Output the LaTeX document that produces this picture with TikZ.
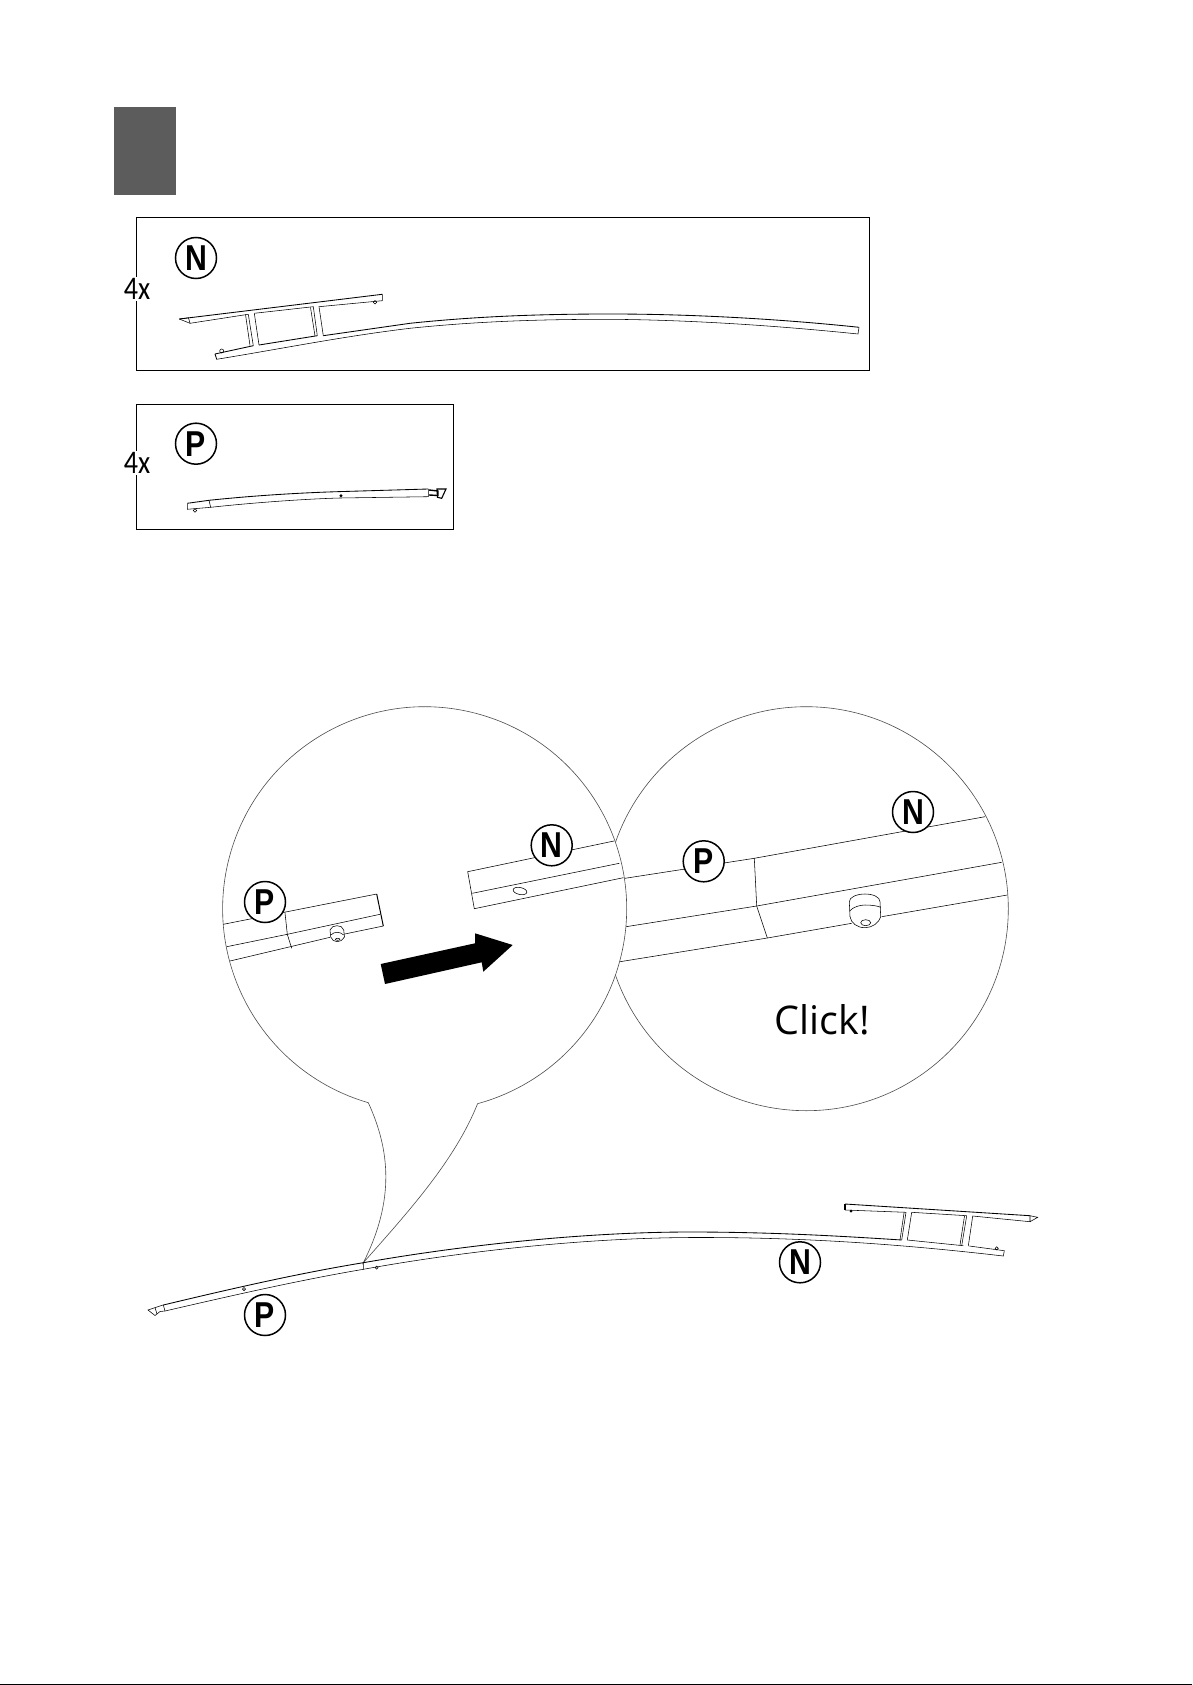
\documentclass[tikz,border=0pt]{standalone}
\usepackage{fontspec}
\newfontfamily\markfont{Liberation Sans}
\newfontfamily\clickfont{Open Sans}
\newfontfamily\countfont{Carlito}
\tikzset{
  partmark/.style={circle,draw,line width=1.5pt,fill=white,minimum size=41pt,inner sep=0pt,font=\markfont\bfseries\fontsize{36}{36}\selectfont},
  countlabel/.style={fill=white,inner sep=1pt,font=\countfont\fontsize{33}{33}\selectfont},
  framebox/.style={draw,line width=1pt},
  part/.style={line width=0.55pt},
  heavy/.style={line width=0.85pt},
  bubble/.style={draw=black!70,line width=0.6pt,fill=white}
}
\newcommand{\narrow}[1]{\scalebox{.84}[1]{#1}}
\begin{document}
\begin{tikzpicture}[x=1pt,y=-1pt]
    \useasboundingbox (0,0) rectangle (1192,1685);
    \draw[line width=1.3pt] (0,1684.4) -- (1192,1684.4);

    % step block
    \fill[black!64] (114,107) rectangle (176,195);

    % part N, in its frame
    \draw[framebox] (136.7,217.3) rectangle (869,370.3);
    \node[countlabel] (countN) at (137,289) {\scalebox{.85}[1]{4x}};
    \node[partmark] (markN) at (196,258) {\narrow{N}};
    \draw[part] (179.3,319) -- (190,323.3) -- (248.3,314.3) (248.3,314.3) -- (253.3,345.7);
    \draw[heavy] (179.3,319) -- (382.3,294.3);
    \draw[part] (179.3,319) -- (188.5,317.8) -- (190,323.3);
    \draw[part] (382.3,294.3) -- (382.3,300.7) -- (319,306.7) -- (323.3,335.7);
    \draw[part] (245.5,314.5) -- (250,345.5) (310.5,307.5) -- (315,336);
    \draw[part] (254.3,313.3) -- (313.3,306.7) -- (317.3,335.7);
    \draw[heavy] (317.3,335.7) -- (259,345);
    \draw[part] (254.3,313.3) -- (259,345);
    \draw[heavy] (215,354) -- (253.3,345.7);
    \draw[heavy] (215,354) -- (216.7,359.3);
    \draw[part] (216.7,359.3) .. controls (280,349) and (345,336) .. (410,328.3) .. controls (480,321) and (545,319.3) .. (610,319.3) .. controls (700,320) and (790,327) .. (858,334) -- (859,327.3);
    \draw[heavy] (323.3,335.7) -- (410,323.3) .. controls (480,316) and (545,314) .. (610,314) .. controls (700,314) and (790,320) .. (859,327.3);
    \draw[part] (221.7,351) circle (2);
    \draw[part] (375,302.3) circle (1.7);

    % part P, in its frame
    \draw[framebox] (136.7,404.3) rectangle (453.6,529.3);
    \node[countlabel] (countP) at (137,463) {\scalebox{.85}[1]{4x}};
    \node[partmark] (markP) at (196,443.7) {\narrow{P}};
    \draw[part] (187.3,503.3) -- (187.3,509.3) -- (210.7,507.3) .. controls (250,503) and (303,499) .. (340,498) -- (428.3,496.7) -- (428.3,489);
    \draw[heavy] (187.3,503.3) -- (209,500.3) .. controls (250,496) and (295,493) .. (336.7,491.7) -- (428.3,489);
    \draw[part] (209,500.3) -- (210.7,507.3);
    \draw[line width=1.4pt] (429,490) -- (438,491) -- (438,495.5) -- (429,495);
    \draw[line width=1.1pt] (437,489) -- (446,489) -- (441.7,498.3) -- (437.5,497.3) -- cycle;
    \fill (341,495.7) circle (1.6);
    \draw[part] (195,510.5) circle (1.8);

    % zoom on the joined pieces
    \draw[bubble] (806.3,908.7) circle (202);
    \draw[part] (625,878.3) -- (754.3,858.3) -- (985,816.7);
    \draw[part] (620,961.7) -- (767.3,938) -- (851.7,923.3) (881.7,916.7) -- (1007.3,895);
    \draw[part] (626,926.7) -- (756.7,906) -- (1001.7,862.3);
    \draw[part] (754.3,858.3) -- (756.7,906) -- (767.3,938);
    \draw[part,fill=white] (849.3,901.7) .. controls (849.3,897) and (857,894) .. (865,894) .. controls (873,894) and (880,897) .. (880,901.7) -- (880.7,916.7) .. controls (879,923) and (872,927.7) .. (865,927.7) .. controls (857,927.7) and (851,923) .. (850,916.7) -- cycle;
    \draw[part] (850,910.7) .. controls (853,907) and (860,905) .. (865,905) .. controls (872,905) and (878,906) .. (880.7,907.3);
    \draw[part] (865.7,922.7) ellipse (5 and 3);
    \node[partmark] (markPb) at (703.7,861.3) {\narrow{P}};
    \node[partmark] (markNb) at (913,812) {\narrow{N}};
    \node[font=\clickfont\fontsize{39.5}{39.5}\selectfont,anchor=base] (click) at (822.3,1034) {Click!};

    % zoom before joining
    \draw[bubble] (368.3,1102.7) arc[start angle=106.2,end angle=434.8,radius=202] .. controls (455,1160) and (410,1210) .. (363.3,1262.7) .. controls (395,1200) and (390,1150) .. (368.3,1102.7) -- cycle;
    \draw[part] (223.3,924.3) -- (376.7,894);
    \draw[line width=1pt] (376.7,894) -- (383.3,926);
    \draw[part] (383.3,926) -- (343.3,934.3) (330,937.3) -- (230,961);
    \draw[part] (226.7,946.7) -- (287.3,934.3) -- (380,914.3);
    \draw[part] (285,912.7) -- (287.3,934.3) -- (291.7,948.3);
    \draw[part,fill=white] (330,930) .. controls (331,927) and (334,925.7) .. (337,925.7) .. controls (340,925.7) and (343,927) .. (343.7,930) -- (344.5,937) .. controls (343,940) and (340,941.7) .. (337.3,941.7) .. controls (334,941.7) and (332,940) .. (330.7,937) -- cycle;
    \draw[part] (330.7,935) .. controls (333,933) and (335,932.3) .. (337,932.3) .. controls (339,932.3) and (342,933) .. (343.7,935);
    \draw[part] (337.7,939.3) ellipse (2.3 and 1);
    \node[partmark] (markPa) at (265,902) {\narrow{P}};
    \draw[part] (614,841) -- (467.7,871.7) -- (474.3,908.7) -- (623.3,877.7);
    \draw[part] (472.3,893.3) -- (619.3,863.3);
    \draw[part,rotate around={-12:(520,891)}] (520,891) ellipse (7 and 3.5);
    \node[partmark] (markNa) at (551.7,845.3) {\narrow{N}};
    \fill (380.7,964) -- (475,943.3) -- (475,933.3) -- (512.7,945) -- (483.3,971.7) -- (481.7,962.3) -- (385,984) -- cycle;

    % the joined rail
    \draw[heavy] (163.3,1305) .. controls (230,1289) and (300,1273) .. (363.3,1262.7) .. controls (470,1244) and (590,1232) .. (690,1232) .. controls (770,1232) and (840,1236) .. (901.7,1240);
    \draw[part] (165,1311) .. controls (230,1296) and (300,1280) .. (363.3,1269.3) .. controls (470,1250) and (590,1238) .. (690,1237.5) .. controls (800,1237) and (900,1244) .. (1003.3,1256) -- (1004.3,1250.7) -- (969.3,1246);
    \draw[part] (363.3,1262.7) -- (363.3,1269.3) (163.3,1305) -- (165,1311);
    \draw[part] (163,1305) -- (148,1310) -- (155,1315.5) -- (160,1311.5) -- (165,1311);
    \draw[part] (155,1307.5) -- (157,1314);
    \draw[part] (244,1289) circle (1.6) (376.7,1267.6) circle (1.5);
    \draw[part] (907.3,1240) -- (963.3,1245.7);
    \draw[part] (906,1212.3) -- (901.7,1240) (911.7,1212.3) -- (907.3,1240) (904,1213) -- (900,1240);
    \draw[part] (966.7,1215.7) -- (961.7,1245.7) (972.7,1216) -- (968.3,1246) (964.5,1216) -- (960,1245);
    \draw[line width=1.3pt] (845,1204) -- (845,1210);
    \draw[heavy] (845,1204) -- (1030,1215.7);
    \draw[part] (845,1210) -- (906,1212.3) (911.7,1212.3) -- (966.7,1215.7) (972.7,1216) -- (1030,1221.7) -- (1030,1215.7) -- (1037.7,1217.3) -- (1030,1221.7);
    \fill (851,1211) circle (1.5);
    \draw[part] (996.7,1248.3) circle (1.6);
    \node[partmark] (markPc) at (265,1315) {\narrow{P}};
    \node[partmark] (markNc) at (800,1262.3) {\narrow{N}};
\end{tikzpicture}
\end{document}
